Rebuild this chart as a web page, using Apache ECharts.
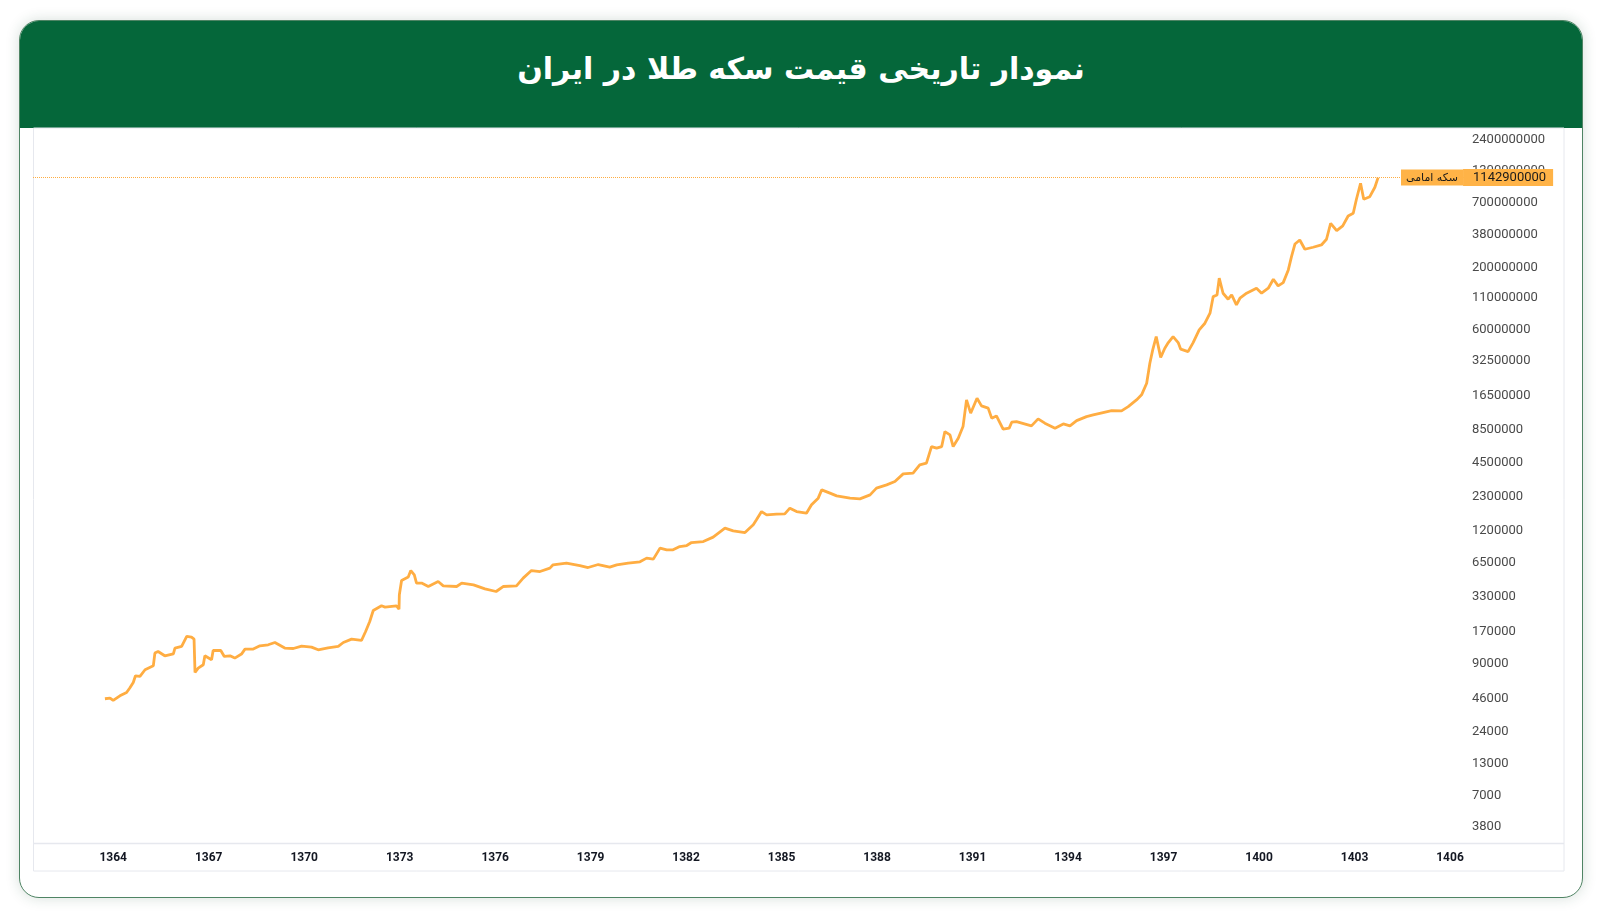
<!DOCTYPE html>
<html>
<head>
<meta charset="utf-8">
<title>نمودار تاریخی قیمت سکه طلا در ایران</title>
<script src="https://cdn.jsdelivr.net/npm/echarts@6/dist/echarts.min.js"></script>
<style>
    html, body { margin: 0; padding: 0; width: 1600px; height: 922px; background: #ffffff; overflow: hidden; }
    #card {
        position: absolute; left: 19px; top: 20px; width: 1564px; height: 878px;
        box-sizing: border-box; border: 1.5px solid #4f8464; border-radius: 20px;
        box-shadow: 0 0 14px rgba(30, 80, 50, 0.18); background: #fff; overflow: hidden;
    }
    #head {
        height: 107px; background: #05673a; color: #fff;
        font-family: 'DejaVu Sans', sans-serif; font-weight: bold; font-size: 30px;
        display: flex; align-items: center; justify-content: center; direction: rtl;
        padding-bottom: 12px; box-sizing: border-box;
    }
    #gold_chart { position: absolute; left: 0; top: 0; width: 1600px; height: 922px; }
</style>
</head>
<body>
<div id="card"><div id="head">نمودار تاریخی قیمت سکه طلا در ایران</div></div>
<div id="gold_chart"></div>
<script>
// سال شمسی (کسری) و قیمت سکه امامی (ریال)
const years = [
    1363.74, 1363.90, 1364.00, 1364.21, 1364.42, 1364.52, 1364.63, 1364.70, 1364.84, 1365.00,
    1365.26, 1365.31, 1365.41, 1365.62, 1365.89, 1365.94, 1366.15, 1366.31, 1366.46, 1366.54,
    1366.57, 1366.67, 1366.83, 1366.88, 1367.09, 1367.14, 1367.38, 1367.49, 1367.67, 1367.82,
    1368.03, 1368.14, 1368.40, 1368.61, 1368.87, 1369.08, 1369.39, 1369.66, 1369.92, 1370.23,
    1370.44, 1370.75, 1371.07, 1371.23, 1371.49, 1371.80, 1371.93, 1372.06, 1372.17, 1372.43,
    1372.54, 1372.90, 1372.98, 1372.99, 1373.06, 1373.27, 1373.35, 1373.46, 1373.53, 1373.69,
    1373.90, 1374.21, 1374.37, 1374.79, 1374.95, 1375.32, 1375.68, 1376.03, 1376.25, 1376.67,
    1376.88, 1377.14, 1377.41, 1377.72, 1377.82, 1378.24, 1378.66, 1378.92, 1379.24, 1379.60,
    1379.82, 1380.18, 1380.23, 1380.55, 1380.76, 1380.97, 1381.18, 1381.39, 1381.59, 1381.80,
    1382.02, 1382.17, 1382.54, 1382.85, 1383.22, 1383.48, 1383.85, 1384.11, 1384.21, 1384.37,
    1384.53, 1384.84, 1385.10, 1385.26, 1385.47, 1385.78, 1385.94, 1386.15, 1386.26, 1386.52,
    1386.73, 1387.15, 1387.46, 1387.78, 1387.98, 1388.30, 1388.56, 1388.82, 1389.13, 1389.34,
    1389.55, 1389.71, 1389.87, 1390.03, 1390.13, 1390.29, 1390.39, 1390.55, 1390.70, 1390.81,
    1390.94, 1391.14, 1391.28, 1391.49, 1391.60, 1391.75, 1391.96, 1392.15, 1392.23, 1392.38,
    1392.85, 1393.06, 1393.27, 1393.59, 1393.85, 1394.06, 1394.27, 1394.58, 1394.79, 1395.10,
    1395.37, 1395.68, 1395.89, 1396.15, 1396.31, 1396.47, 1396.57, 1396.66, 1396.77, 1396.91,
    1397.04, 1397.15, 1397.30, 1397.46, 1397.54, 1397.77, 1397.93, 1398.12, 1398.30, 1398.46,
    1398.56, 1398.68, 1398.75, 1398.87, 1399.03, 1399.14, 1399.29, 1399.40, 1399.61, 1399.92,
    1400.08, 1400.29, 1400.45, 1400.60, 1400.76, 1400.92, 1401.02, 1401.13, 1401.28, 1401.44,
    1401.70, 1401.96, 1402.12, 1402.25, 1402.44, 1402.63, 1402.80, 1402.96, 1403.06, 1403.19,
    1403.29, 1403.48, 1403.64, 1403.74
];
const prices = [
    45900, 46500, 44400, 48600, 51800, 56500, 63000, 71700, 70800, 80600,
    87000, 111400, 114900, 105700, 109900, 122800, 126700, 153800, 152000, 146200,
    76400, 83200, 88800, 105700, 97800, 117200, 117200, 104300, 105700, 101100,
    109300, 120400, 120400, 128400, 130900, 136900, 122800, 121800, 127600, 125200,
    118800, 123500, 126700, 136900, 146200, 142300, 169400, 205800, 254800, 279100,
    272200, 279100, 261800, 345500, 456100, 487300, 553800, 509500, 433600, 433600,
    405900, 447200, 411500, 405900, 433600, 419600, 388200, 368400, 405900, 411500,
    477900, 553800, 543100, 580100, 618600, 639400, 610200, 587000, 622300, 591500,
    618600, 639400, 659600, 655600, 704500, 691000, 855400, 827700, 827700, 882400,
    899800, 953800, 972400, 1059000, 1262000, 1197000, 1158000, 1345000, 1482000, 1741000,
    1633000, 1655000, 1665000, 1860000, 1741000, 1688000, 1983000, 2259000, 2653000, 2489000,
    2361000, 2259000, 2228000, 2408000, 2743000, 2924000, 3117000, 3620000, 3670000, 4311000,
    4456000, 6151000, 5963000, 6151000, 8229000, 7721000, 6151000, 7239000, 9071000, 15230000,
    11760000, 15740000, 13560000, 12970000, 10680000, 11160000, 8623000, 8793000, 9877000, 9993000,
    9193000, 10530000, 9687000, 8793000, 9556000, 9193000, 10190000, 11010000, 11380000, 11900000,
    12370000, 12300000, 13370000, 15230000, 16790000, 21060000, 31060000, 40210000, 52040000, 34760000,
    41560000, 46330000, 52040000, 46330000, 40760000, 38900000, 46330000, 59290000, 67520000, 81990000,
    113200000, 116900000, 161800000, 120900000, 107600000, 116900000, 96310000, 109700000, 120900000, 133200000,
    120900000, 133200000, 158700000, 139300000, 148500000, 190000000, 246000000, 314800000, 340200000, 284000000,
    295300000, 308800000, 344800000, 470400000, 407400000, 446500000, 542200000, 571400000, 749800000, 1023000000,
    749800000, 788500000, 946400000, 1142900000
];
const seriesName = 'سکه امامی';
const yearTicks = [1364, 1367, 1370, 1373, 1376, 1379, 1382, 1385, 1388, 1391, 1394, 1397, 1400, 1403, 1406];
const priceTicks = [
    3800, 7000, 13000, 24000, 46000, 90000, 170000, 330000, 650000, 1200000, 2300000,
    4500000, 8500000, 16500000, 32500000, 60000000, 110000000, 200000000, 380000000,
    700000000, 1300000000, 2400000000
];

let myChart = echarts.init(document.getElementById('gold_chart'));
let lineColor = '#ffad42';
let frameColor = '#e6e8ee';
let lastPrice = prices[prices.length - 1];

let seriesData = [];
for (let i = 0; i < years.length; i++) {
    seriesData.push([years[i], prices[i]]);
}

let option = {
    animation: false,
    grid: {
        left: 33,
        right: 136,
        top: 128,
        bottom: 79
    },
    xAxis: {
        type: 'value',
        min: 1361.48,
        max: 1406.44,
        axisLine: { show: false },
        axisTick: { show: false },
        splitLine: { show: false },
        axisLabel: {
            customValues: yearTicks,
            formatter: function (v) { return String(Math.round(v)); },
            color: '#131722',
            fontWeight: 'bold',
            fontSize: 12,
            fontFamily: 'Roboto',
            margin: 9
        }
    },
    yAxis: {
        type: 'log',
        position: 'right',
        min: 2786,
        max: 2993000000,
        axisLine: { show: false },
        axisTick: { show: false },
        splitLine: { show: false },
        axisLabel: {
            customValues: priceTicks,
            formatter: function (v) { return String(Math.round(v)); },
            color: '#4a4a4a',
            fontSize: 13,
            fontFamily: 'Roboto',
            margin: 8
        }
    },
    graphic: [
        {
            type: 'rect',
            silent: true,
            shape: { x: 33.5, y: 128, width: 1530.5, height: 743 },
            style: { fill: 'none', stroke: frameColor, lineWidth: 1 }
        },
        {
            type: 'line',
            silent: true,
            shape: { x1: 33, y1: 843.5, x2: 1564, y2: 843.5 },
            style: { stroke: frameColor, lineWidth: 1.5 }
        }
    ],
    series: [
        {
            name: seriesName,
            type: 'line',
            showSymbol: false,
            symbol: 'none',
            data: seriesData,
            lineStyle: { color: lineColor, width: 2.8 },
            itemStyle: { color: lineColor },
            markLine: {
                silent: true,
                symbol: 'none',
                lineStyle: { color: lineColor, type: 'dotted', width: 1 },
                label: {
                    position: 'end',
                    distance: -63,
                    formatter: function () {
                        return '{n|' + seriesName + '}{v|' + lastPrice + '}';
                    },
                    rich: {
                        n: {
                            backgroundColor: '#ffb347',
                            color: '#1a1a1a',
                            fontSize: 11,
                            fontFamily: 'DejaVu Sans',
                            padding: [3, 5, 2, 5],
                            lineHeight: 12
                        },
                        v: {
                            backgroundColor: '#ffb347',
                            color: '#1a1a1a',
                            fontSize: 13,
                            fontFamily: 'Roboto',
                            padding: [2, 7, 2, 10],
                            lineHeight: 13
                        }
                    }
                },
                data: [{ yAxis: lastPrice }]
            }
        }
    ]
};
myChart.setOption(option);

window.addEventListener('resize', function () {
    myChart.resize();
});
</script>
</body>
</html>
